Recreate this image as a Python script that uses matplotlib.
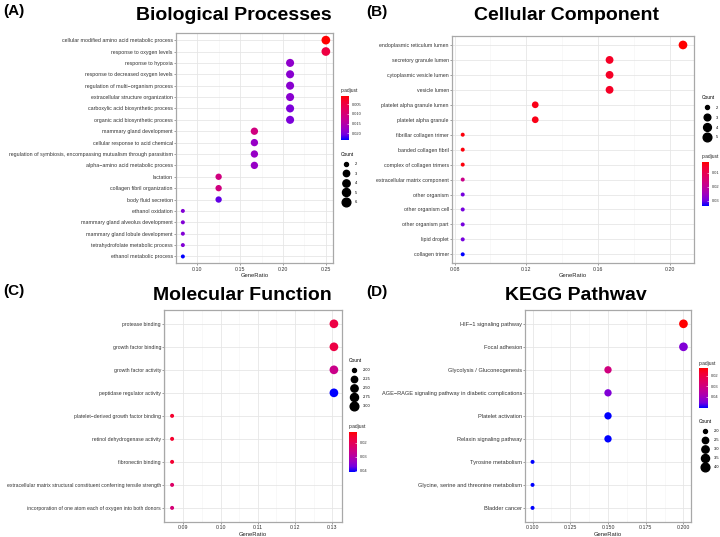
import matplotlib
matplotlib.use('Agg')
import numpy as np
import matplotlib.pyplot as plt
from matplotlib.colors import LinearSegmentedColormap, Normalize
from matplotlib.cm import ScalarMappable
from matplotlib.lines import Line2D
from matplotlib.ticker import MultipleLocator, FormatStrFormatter

plt.rcParams['font.family'] = ['Liberation Sans', 'DejaVu Sans']

W, H = 720, 537

# (A) Biological Processes
bp_terms = [
    "cellular modified amino acid metabolic process",
    "response to oxygen levels",
    "response to hypoxia",
    "response to decreased oxygen levels",
    "regulation of multi\u2212organism process",
    "extracellular structure organization",
    "carboxylic acid biosynthetic process",
    "organic acid biosynthetic process",
    "mammary gland development",
    "cellular response to acid chemical",
    "regulation of symbiosis, encompassing mutualism through parasitism",
    "alpha\u2212amino acid metabolic process",
    "lactation",
    "collagen fibril organization",
    "body fluid secretion",
    "ethanol oxidation",
    "mammary gland alveolus development",
    "mammary gland lobule development",
    "tetrahydrofolate metabolic process",
    "ethanol metabolic process",
]
bp_ratio = [0.25, 0.25, 0.2083, 0.2083, 0.2083, 0.2083, 0.2083, 0.2083,
            0.1667, 0.1667, 0.1667, 0.1667, 0.125, 0.125, 0.125,
            0.0833, 0.0833, 0.0833, 0.0833, 0.0833]
bp_count = [6, 6, 5, 5, 5, 5, 5, 5, 4, 4, 4, 4, 3, 3, 3, 2, 2, 2, 2, 2]
bp_padj = [0.0006, 0.0050, 0.0185, 0.0190, 0.0190, 0.0190, 0.0200, 0.0200,
           0.0110, 0.0180, 0.0180, 0.0180, 0.0110, 0.0110, 0.0210,
           0.0195, 0.0195, 0.0195, 0.0195, 0.0235]

# (B) Cellular Component
cc_terms = [
    "endoplasmic reticulum lumen",
    "secretory granule lumen",
    "cytoplasmic vesicle lumen",
    "vesicle lumen",
    "platelet alpha granule lumen",
    "platelet alpha granule",
    "fibrillar collagen trimer",
    "banded collagen fibril",
    "complex of collagen trimers",
    "extracellular matrix component",
    "other organism",
    "other organism cell",
    "other organism part",
    "lipid droplet",
    "collagen trimer",
]
cc_ratio = [0.2075, 0.1665, 0.1665, 0.1665, 0.125, 0.125,
            0.0845, 0.0845, 0.0845, 0.0845, 0.0845, 0.0845, 0.0845, 0.0845, 0.0845]
cc_count = [5, 4, 4, 4, 3, 3, 2, 2, 2, 2, 2, 2, 2, 2, 2]
cc_padj = [0.0021, 0.0052, 0.0052, 0.0052, 0.0040, 0.0040,
           0.0030, 0.0030, 0.0030, 0.0180, 0.0295, 0.0295, 0.0295, 0.0295, 0.0338]

# (C) Molecular Function
mf_terms = [
    "protease binding",
    "growth factor binding",
    "growth factor activity",
    "peptidase regulator activity",
    "platelet\u2212derived growth factor binding",
    "retinol dehydrogenase activity",
    "fibronectin binding",
    "extracellular matrix structural constituent conferring tensile strength",
    "incorporation of one atom each of oxygen into both donors",
]
mf_ratio = [0.1304, 0.1304, 0.1304, 0.1304, 0.0870, 0.0870, 0.0870, 0.0870, 0.0870]
mf_count = [3, 3, 3, 3, 2, 2, 2, 2, 2]
mf_padj = [0.0180, 0.0180, 0.0265, 0.0405, 0.0157, 0.0157, 0.0160, 0.0220, 0.0240]

# (D) KEGG Pathway
kegg_terms = [
    "HIF\u22121 signaling pathway",
    "Focal adhesion",
    "Glycolysis / Gluconeogenesis",
    "AGE\u2212RAGE signaling pathway in diabetic complications",
    "Platelet activation",
    "Relaxin signaling pathway",
    "Tyrosine metabolism",
    "Glycine, serine and threonine metabolism",
    "Bladder cancer",
]
kegg_ratio = [0.20, 0.20, 0.15, 0.15, 0.15, 0.15, 0.10, 0.10, 0.10]
kegg_count = [4, 4, 3, 3, 3, 3, 2, 2, 2]
kegg_padj = [0.0125, 0.0445, 0.0298, 0.0445, 0.0510, 0.0510, 0.0510, 0.0510, 0.0510]

# ggplot-like red -> blue gradient (Lab interpolated)
cmap = LinearSegmentedColormap.from_list(
    'padj', ['#FF0000', '#F40031', '#E80050', '#DA006C', '#CA0089',
             '#B500A5', '#9A00C3', '#7300E0', '#0000FF'])


def px(x0, y0, x1, y1):
    return [x0 / W, 1 - y1 / H, (x1 - x0) / W, (y1 - y0) / H]


def diam(c, cmin, cmax, dmin=4.0, dmax=8.7):
    c = np.asarray(c, dtype=float)
    return dmin + (dmax - dmin) * np.sqrt((c - cmin) / (cmax - cmin))


fig = plt.figure(figsize=(W / 100, H / 100), dpi=100)


def dot_panel(rect, terms, ratio, count, padj, norm, major, minor, xfmt, lsize,
              cmin, cmax):
    ax = fig.add_axes(rect)
    y = np.arange(len(terms))
    s = (diam(count, cmin, cmax) * 0.72) ** 2
    ax.scatter(ratio, y, s=s, c=padj, cmap=cmap, norm=norm,
               edgecolors='none', zorder=3)
    lo, hi = min(ratio), max(ratio)
    pad = (hi - lo) * 0.05
    ax.set_xlim(lo - pad, hi + pad)
    ax.set_ylim(len(terms) - 0.4, -0.6)
    ax.set_yticks(y)
    ax.set_yticklabels(terms, fontsize=lsize, color='#333333')
    ax.xaxis.set_major_locator(MultipleLocator(major))
    ax.xaxis.set_minor_locator(MultipleLocator(minor))
    ax.xaxis.set_major_formatter(FormatStrFormatter(xfmt))
    ax.tick_params(axis='x', which='major', labelsize=3.8, length=1.5,
                   width=0.4, color='#555555', pad=1, labelcolor='#333333')
    ax.tick_params(axis='x', which='minor', length=0)
    ax.tick_params(axis='y', length=1.5, width=0.4, color='#555555', pad=0.6)
    ax.grid(True, which='major', color='#E6E6E6', lw=0.6, zorder=0)
    ax.grid(True, which='minor', axis='x', color='#F3F3F3', lw=0.4, zorder=0)
    ax.set_axisbelow(True)
    for sp in ax.spines.values():
        sp.set_color('#A8A8A8')
        sp.set_linewidth(0.9)
    ax.set_xlabel('GeneRatio', fontsize=4.2, labelpad=1, color='#222222')
    return ax


def color_legend(box, norm, ticks, fmt):
    x0, y0, x1, y1 = box
    cax = fig.add_axes(px(x0, y0, x1, y1))
    cb = fig.colorbar(ScalarMappable(norm=norm, cmap=cmap), cax=cax)
    cb.outline.set_visible(False)
    cax.invert_yaxis()
    cb.set_ticks(ticks)
    cb.set_ticklabels([fmt % t for t in ticks])
    cax.tick_params(length=1.5, width=0.4, color='white', direction='in',
                    labelsize=2.9, pad=2, labelcolor='#333333')
    fig.text(x0 / W, 1 - (y0 - 5) / H, 'p.adjust', fontsize=3.5,
             va='center', ha='left', color='#222222')


def size_legend(x, y, values, labels, cmin, cmax, spacing):
    handles = [Line2D([], [], ls='', marker='o', color='black',
                      markersize=d * 0.72) for d in diam(values, cmin, cmax)]
    fig.legend(handles, labels, title='Count', loc='upper left',
               bbox_to_anchor=(x / W, 1 - y / H), frameon=False,
               fontsize=2.9, title_fontsize=3.5, handletextpad=0.8,
               labelspacing=spacing, borderpad=0, borderaxespad=0,
               handlelength=2.8, alignment='left')


# panel A
norm_a = Normalize(0.0006, 0.0235)
dot_panel(px(175.7, 33.3, 333, 263.3), bp_terms, bp_ratio, bp_count, bp_padj,
          norm_a, 0.05, 0.025, '%.2f', 3.8, 2, 6)
color_legend((341, 95.7, 349, 140), norm_a, [0.005, 0.010, 0.015, 0.020], '%.3f')
size_legend(340.5, 152, [2, 3, 4, 5, 6], ['2', '3', '4', '5', '6'], 2, 6, 1.35)

# panel B
norm_b = Normalize(0.0021, 0.0338)
dot_panel(px(451.7, 36, 694, 263.3), cc_terms, cc_ratio, cc_count, cc_padj,
          norm_b, 0.04, 0.02, '%.2f', 3.8, 2, 5)
color_legend((702, 161.7, 709, 206), norm_b, [0.01, 0.02, 0.03], '%.2f')
size_legend(701.5, 95, [2, 3, 4, 5], ['2', '3', '4', '5'], 2, 5, 1.45)

# panel C
norm_c = Normalize(0.0123, 0.0405)
dot_panel(px(164, 310, 342, 521.7), mf_terms, mf_ratio, mf_count, mf_padj,
          norm_c, 0.01, 0.005, '%.2f', 3.7, 2, 3)
color_legend((349, 431.7, 357, 471.7), norm_c, [0.02, 0.03, 0.04], '%.2f')
size_legend(348.5, 358, [2.0, 2.25, 2.5, 2.75, 3.0],
            ['2.00', '2.25', '2.50', '2.75', '3.00'], 2, 3, 1.25)

# panel D
norm_d = Normalize(0.0125, 0.051)
dot_panel(px(525, 310, 691, 521.7), kegg_terms, kegg_ratio, kegg_count, kegg_padj,
          norm_d, 0.025, 0.0125, '%.3f', 4.05, 2, 4)
color_legend((699, 368, 708, 408), norm_d, [0.02, 0.03, 0.04], '%.2f')
size_legend(699, 419, [2.0, 2.5, 3.0, 3.5, 4.0],
            ['2.0', '2.5', '3.0', '3.5', '4.0'], 2, 4, 1.25)

# titles and panel letters
titles = ['Biological Processes', 'Cellular Component', 'Molecular Function', 'KEGG Pathwav']
letters = ['(A)', '(B)', '(C)', '(D)']
title_pos = [(234, 15), (566, 15), (242.5, 295), (576, 295)]
letter_pos = [(3, 11), (366, 12), (3, 291), (366, 292)]
for t, (x, y) in zip(titles, title_pos):
    fig.text(x / W, 1 - y / H, t, fontsize=14, fontweight='bold',
             ha='center', va='center')
for t, (x, y) in zip(letters, letter_pos):
    fig.text(x / W, 1 - y / H, t, fontsize=11, fontweight='bold',
             ha='left', va='center')

fig.savefig('out.png', dpi=100)
